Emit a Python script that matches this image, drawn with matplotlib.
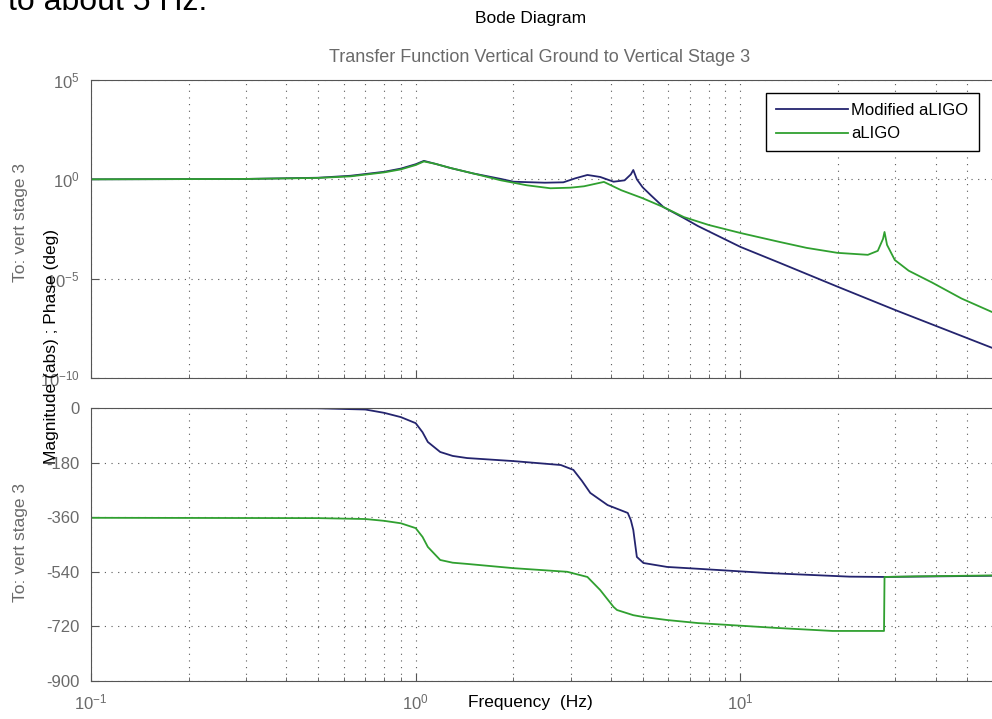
import numpy as np
from matplotlib import pyplot as plt

plt.rcParams['font.family'] = ['Liberation Sans', 'DejaVu Sans']
plt.rcParams['mathtext.default'] = 'regular'
plt.rcParams['axes.unicode_minus'] = False

## data
# magnitude, log10(abs)
mod_mag_f = [0.1, 0.3, 0.5, 0.63, 0.8, 0.9, 1.0, 1.06, 1.15, 1.28, 1.5, 1.83, 2.0, 2.5, 2.85,
             3.1, 3.38, 3.7, 4.07, 4.4, 4.6, 4.68, 4.8, 5.0, 5.3, 5.8, 6.7, 7.4, 10, 13.2, 19.9, 29.9, 60]
mod_mag_log = [0, 0.02, 0.08, 0.18, 0.38, 0.54, 0.76, 0.93, 0.78, 0.57, 0.3, 0.02, -0.12, -0.17, -0.15,
               0.05, 0.22, 0.12, -0.12, -0.05, 0.25, 0.47, 0.0, -0.4, -0.8, -1.4, -1.95, -2.35, -3.4, -4.2, -5.4, -6.57, -8.5]

ligo_mag_f = [0.1, 0.3, 0.5, 0.63, 0.8, 0.9, 1.0, 1.06, 1.15, 1.28, 1.5, 1.83, 2.2, 2.6, 3.0, 3.3, 3.8,
              4.3, 5.0, 5.8, 6.7, 8.0, 10, 13.2, 16, 19.9, 24.7, 26.5, 27.5, 27.8, 28.3, 29.9, 33, 39, 48, 60]
ligo_mag_log = [0, 0.02, 0.07, 0.15, 0.35, 0.5, 0.72, 0.9, 0.78, 0.57, 0.3, -0.05, -0.3, -0.45, -0.42, -0.35, -0.13,
                -0.55, -0.95, -1.4, -1.9, -2.3, -2.7, -3.15, -3.45, -3.7, -3.8, -3.6, -3.0, -2.65, -3.3, -4.06, -4.6, -5.2, -6.0, -6.7]

# phase, deg
mod_ph_f = [0.1, 0.5, 0.7, 0.8, 0.9, 1.0, 1.05, 1.09, 1.19, 1.3, 1.44, 2.0, 2.8, 3.06, 3.25, 3.45, 3.9,
            4.5, 4.6, 4.68, 4.8, 5.03, 5.95, 7.4, 12.1, 21.7, 27.8, 60]
mod_ph = [0, -1, -5, -16, -30, -50, -80, -112, -145, -158, -165, -175, -188, -204, -240, -280, -320,
          -346, -370, -402, -491, -511, -524, -530, -544, -556, -557, -553]

ligo_ph_f = [0.1, 0.5, 0.7, 0.8, 0.9, 1.0, 1.05, 1.09, 1.19, 1.3, 1.44, 2.0, 2.93, 3.38, 3.7, 4.07,
             4.17, 4.68, 5.03, 5.95, 7.4, 12.9, 19.2, 27.7, 27.8, 35, 60]
ligo_ph = [-362, -363, -366, -372, -380, -396, -425, -458, -501, -510, -514, -528, -540, -557, -600, -656,
           -666, -683, -689, -699, -709, -725, -735, -735, -557, -555, -552]

mag_ticks = [1e5, 1e0, 1e-5, 1e-10]
ph_ticks = [0, -180, -360, -540, -720, -900]
names = ['Modified aLIGO', 'aLIGO']

blue = '#24246e'
green = '#30a030'
grey = '#6a6a6a'

fig = plt.figure(figsize=(9.92, 7.19), dpi=100)
W, H = 992.0, 719.0
ax1 = fig.add_axes([91 / W, 1 - 378 / H, 902 / W, 298 / H])
ax2 = fig.add_axes([91 / W, 1 - 681 / H, 902 / W, 273 / H])

def style(ax):
    ax.set_xscale('log')
    ax.set_xlim(0.1, 60)
    ax.grid(True, which='major', axis='both', color='0.35', linestyle=(0, (1, 5)), linewidth=0.8)
    ax.grid(True, which='minor', axis='x', color='0.35', linestyle=(0, (1, 5)), linewidth=0.8)
    ax.tick_params(which='both', direction='in', colors='#555555', labelcolor=grey, labelsize=12, pad=8)
    ax.tick_params(which='major', length=6)
    ax.tick_params(which='minor', length=3)
    ax.tick_params(axis='y', which='minor', left=False, right=False)
    for s in ax.spines.values():
        s.set_color('#555555')

## magnitude
ax1.plot(mod_mag_f, 10.0 ** np.array(mod_mag_log), color=blue, lw=1.3, label=names[0])
ax1.plot(ligo_mag_f, 10.0 ** np.array(ligo_mag_log), color=green, lw=1.3, label=names[1])
ax1.set_yscale('log')
style(ax1)
ax1.set_ylim(1e-10, 1e5)
ax1.set_yticks(mag_ticks)
ax1.set_yticks([], minor=True)
ax1.tick_params(axis='x', which='both', labelbottom=False)
leg = ax1.legend(loc='upper right', bbox_to_anchor=(0.984, 0.956), borderaxespad=0, fontsize=12,
                 handlelength=4.3, handletextpad=0.2, fancybox=False, framealpha=1, borderpad=0.6)
leg.get_frame().set_edgecolor('black')
leg.get_frame().set_linewidth(1.0)

## phase
ax2.plot(mod_ph_f, mod_ph, color=blue, lw=1.3)
ax2.plot(ligo_ph_f, ligo_ph, color=green, lw=1.3)
style(ax2)
ax2.set_ylim(-900, 0)
ax2.set_yticks(ph_ticks)
ax2.set_xticks([0.1, 1, 10])

## texts
fig.text(8 / W, 1 - 10 / H, 'to about 5 Hz.', fontsize=23, color='black', va='baseline', ha='left')
fig.text(531 / W, 1 - 18 / H, 'Bode Diagram', fontsize=12.5, color='black', ha='center', va='center')
fig.text(540 / W, 1 - 58 / H, 'Transfer Function Vertical Ground to Vertical Stage 3', fontsize=13,
         color=grey, ha='center', va='center')
fig.text(530 / W, 1 - 703 / H, 'Frequency  (Hz)', fontsize=12.5, color='black', ha='center', va='center')
fig.text(52 / W, 1 - 346 / H, 'Magnitude (abs) ; Phase (deg)', fontsize=12.5, color='black',
         rotation=90, ha='center', va='center')
fig.text(21 / W, 1 - 222 / H, 'To: vert stage 3', fontsize=12.5, color=grey, rotation=90, ha='center', va='center')
fig.text(21 / W, 1 - 543 / H, 'To: vert stage 3', fontsize=12.5, color=grey, rotation=90, ha='center', va='center')

fig.savefig('out.png', dpi=100)
